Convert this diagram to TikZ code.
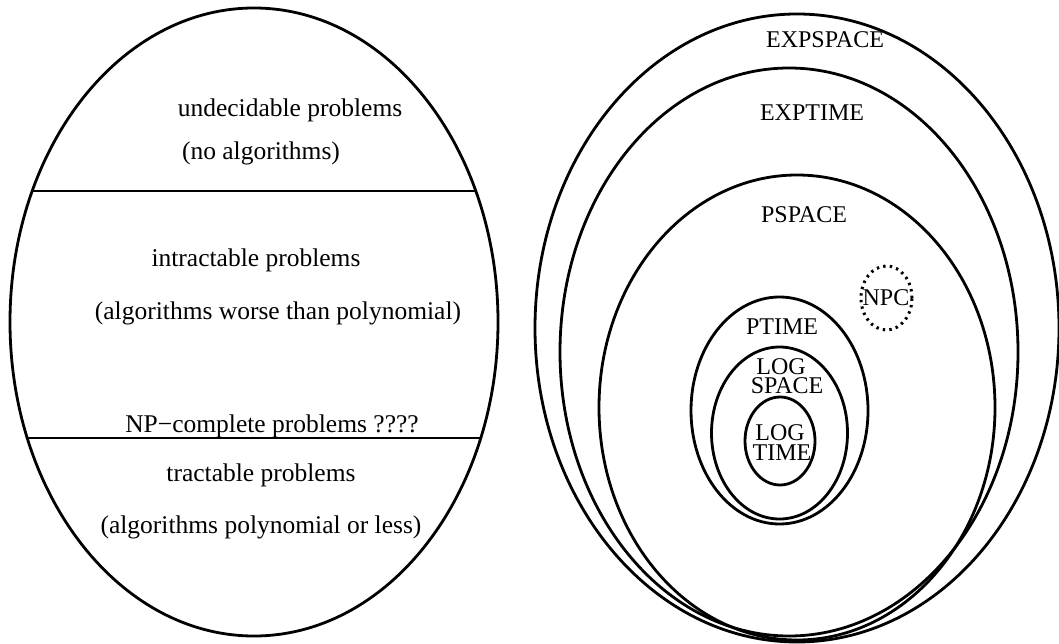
\documentclass[tikz,border=0pt]{standalone}
\usepackage{fontspec}
\setmainfont{Liberation Serif}
\begin{document}
\begin{tikzpicture}[x=1pt,y=-1pt,
  ring/.style={draw=black,line width=2.8pt},
  npcring/.style={draw=black,line width=3pt,dash pattern=on 2.4pt off 4.2pt},
  lefttext/.style={inner sep=0pt,font=\fontsize{25.5}{30}\selectfont},
  righttext/.style={inner sep=0pt,font=\fontsize{24}{19}\selectfont,align=center},
  capword/.style={righttext,text height=16pt,text depth=0pt}]
\useasboundingbox (0,0) rectangle (1059,644);

% ---- left: problem classes split by two horizontal bands
\begin{scope}
  \clip (254,322) ellipse [x radius=244pt, y radius=314pt];
  \draw[ring] (0,191) -- (520,191);
  \draw[ring] (0,438) -- (520,438);
\end{scope}
\draw[ring] (254,322) ellipse [x radius=244pt, y radius=314pt];

\node[lefttext] (undec)   at (290,110) {undecidable problems};
\node[lefttext] (noalg)   at (261,153) {(no algorithms)};
\node[lefttext] (intract) at (256,260) {intractable problems};
\node[lefttext] (worse)   at (278,313) {(algorithms worse than polynomial)};
\node[lefttext] (npc)     at (272,426) {NP−complete problems ????};
\node[lefttext] (tract)   at (261,475) {tractable problems};
\node[lefttext] (poly)    at (261,527) {(algorithms polynomial or less)};

% ---- right: nested complexity classes
\draw[ring] (797,328)   ellipse [x radius=262pt, y radius=314pt];
\draw[ring] (789,352)   ellipse [x radius=229pt, y radius=284pt];
\draw[ring] (797,407.5) ellipse [x radius=198pt, y radius=232.5pt];
\draw[ring] (779.5,410.5) ellipse [x radius=88.5pt, y radius=113.5pt];
\draw[ring] (779.5,433) ellipse [x radius=68pt, y radius=86pt];
\draw[ring] (780,441)   ellipse [x radius=35pt, y radius=44pt];
\draw[npcring] (886.5,298) ellipse [x radius=25.5pt, y radius=32pt];

\node[righttext] (expspace) at (825,40)  {EXPSPACE};
\node[righttext] (exptime)  at (812,113) {EXPTIME};
\node[righttext] (pspace)   at (804,215) {PSPACE};
\node[righttext] (npclabel) at (886,298) {NPC};
\node[righttext] (ptime)    at (782,327) {PTIME};
\node[capword] (logA)   at (781,366) {LOG};
\node[capword] (spaceA) at (787,385) {SPACE};
\node[capword] (logB)   at (780,432) {LOG};
\node[capword] (timeB)  at (782,452) {TIME};
\end{tikzpicture}
\end{document}
